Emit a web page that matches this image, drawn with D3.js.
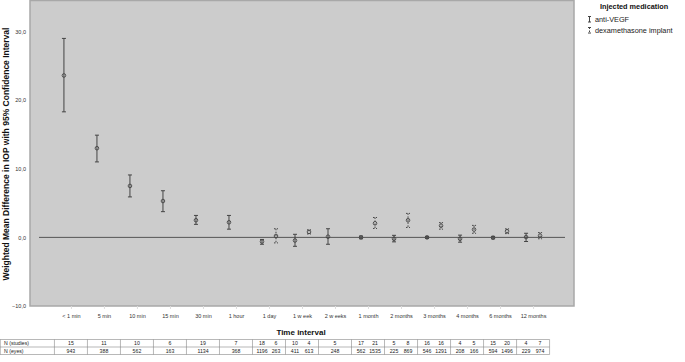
<!DOCTYPE html>
<html><head><meta charset="utf-8">
<script src="https://cdn.jsdelivr.net/npm/d3@7"></script>
<style>body{margin:0;background:#fff}svg{display:block}text{font-family:"Liberation Sans",Arial,sans-serif}</style>
</head><body>
<svg id="c" width="685" height="362"></svg>
<script>
const categories = ["< 1 min","5 min","10 min","15 min","30 min","1 hour","1 day","1 w eek","2 w eeks","1 month","2 months","3 months","4 months","6 months","12 months"];
const antiMean = [23.6,13.0,7.5,5.3,2.5,2.2,-0.6,-0.45,0.1,0.0,-0.2,0.0,-0.2,-0.05,0.05];
const antiLow  = [18.3,11.0,5.9,3.75,1.9,1.2,-1.0,-1.3,-1.0,-0.2,-0.65,-0.15,-0.7,-0.2,-0.6];
const antiHigh = [29.0,14.9,9.1,6.8,3.2,3.2,-0.3,0.45,1.26,0.2,0.3,0.15,0.33,0.15,0.6];
const dexMean = [null,null,null,null,null,null,0.2,0.8,null,2.05,2.5,1.7,1.15,0.9,0.25];
const dexLow  = [null,null,null,null,null,null,-0.8,0.5,null,1.3,1.45,1.2,0.6,0.55,-0.2];
const dexHigh = [null,null,null,null,null,null,1.26,1.1,null,2.9,3.5,2.15,1.75,1.25,0.7];
const antiStudies = [15,11,10,6,19,7,18,10,5,17,5,16,4,15,4];
const dexStudies  = [null,null,null,null,null,null,6,4,null,21,8,16,5,20,7];
const antiEyes = [943,388,562,163,1134,368,1196,411,248,562,225,546,208,594,229];
const dexEyes  = [null,null,null,null,null,null,263,613,null,1535,869,1291,166,1496,974];
const yTicks = [-10,0,10,20,30];
const seriesNames = ["anti-VEGF","dexamethasone implant"];

const svg = d3.select("#c");
const L=30,R=574,T=0,B=306;
const x = d3.scalePoint().domain(categories).range([L,R]).padding(1.24);
const y = d3.scaleLinear().domain([-10,34.6]).range([B,T]);
const off = 7;

svg.append("rect").attr("x",L).attr("y",T+0.5).attr("width",R-L).attr("height",B-T-0.5)
  .attr("fill","#cccccc").attr("stroke","#a8a8a8").attr("stroke-width",1.5);

// y axis labels
const yAx = svg.append("g").attr("transform",`translate(${L},0)`)
  .call(d3.axisLeft(y).tickValues(yTicks).tickSize(0).tickPadding(4).tickFormat(d=>d3.format(".1f")(d).replace(".",",")));
yAx.select(".domain").remove();
yAx.selectAll("text").attr("font-size",5.5).attr("fill","#333");

// x axis
const xAx = svg.append("g").attr("transform",`translate(0,${B})`)
  .call(d3.axisBottom(x).tickSize(3).tickPadding(5));
xAx.select(".domain").remove();
xAx.selectAll("line").attr("stroke","#ddd");
xAx.selectAll("text").attr("font-size",5.5).attr("fill","#333");

// reference line
svg.append("line").attr("x1",L+9).attr("x2",R-9).attr("y1",y(0)).attr("y2",y(0))
  .attr("stroke","#555").attr("stroke-width",1);

function drawSeries(mean,low,high,dx,dash){
  const g = svg.append("g");
  categories.forEach((c,i)=>{
    if(mean[i]==null) return;
    const cx = x(c)+dx;
    g.append("line").attr("x1",cx).attr("x2",cx).attr("y1",y(high[i])).attr("y2",y(low[i]))
      .attr("stroke","#444").attr("stroke-width",1).attr("stroke-dasharray",dash);
    [high[i],low[i]].forEach(v=>g.append("line").attr("x1",cx-2).attr("x2",cx+2).attr("y1",y(v)).attr("y2",y(v))
      .attr("stroke","#444").attr("stroke-width",1).attr("stroke-dasharray",dash));
    g.append("circle").attr("cx",cx).attr("cy",y(mean[i])).attr("r",1.8)
      .attr("fill","none").attr("stroke","#444").attr("stroke-width",0.9);
  });
}
drawSeries(antiMean,antiLow,antiHigh,-off,null);
drawSeries(dexMean,dexLow,dexHigh,off,"1.5,1.5");

// axis titles
svg.append("text").attr("x",301).attr("y",335).attr("text-anchor","middle")
  .attr("font-size",8).attr("font-weight","bold").attr("fill","#111").text("Time interval");
svg.append("text").attr("transform","translate(9,154) rotate(-90)").attr("text-anchor","middle")
  .attr("font-size",8.5).attr("font-weight","bold").attr("fill","#111")
  .text("Weighted Mean Difference in IOP with 95% Confidence Interval");

// legend
const lg = svg.append("g");
lg.append("text").attr("x",600).attr("y",9).attr("font-size",7.3).attr("font-weight","bold").attr("fill","#111").text("Injected medication");
seriesNames.forEach((n,i)=>{
  const yy = 21.5+i*11;
  const ix=589.5;
  const dash = i===0?null:"1.5,1.5";
  lg.append("line").attr("x1",ix).attr("x2",ix).attr("y1",yy-5).attr("y2",yy+0.5).attr("stroke","#444").attr("stroke-dasharray",dash);
  lg.append("line").attr("x1",ix-1.5).attr("x2",ix+1.5).attr("y1",yy-5).attr("y2",yy-5).attr("stroke","#444");
  lg.append("line").attr("x1",ix-1.5).attr("x2",ix+1.5).attr("y1",yy+0.5).attr("y2",yy+0.5).attr("stroke","#444");
  lg.append("text").attr("x",595).attr("y",yy).attr("font-size",7.3).attr("fill","#222").text(n);
});

// table
const tb = svg.append("g");
const tTop=339.5, tMid=347, tBot=354.5;
const step = x.step();
const left0 = 0, right0 = x(categories[categories.length-1])+step/2;
[tTop,tMid,tBot].forEach(v=>tb.append("line").attr("x1",left0).attr("x2",right0).attr("y1",v).attr("y2",v).attr("stroke","#888").attr("stroke-width",0.6));
const seps = [left0+0.3].concat(categories.map(c=>x(c)-step/2)).concat([right0]);
seps.forEach(v=>tb.append("line").attr("x1",v).attr("x2",v).attr("y1",tTop).attr("y2",tBot).attr("stroke","#888").attr("stroke-width",0.6));
tb.append("text").attr("x",4).attr("y",345.3).attr("font-size",5.2).attr("fill","#222").text("N (studies)");
tb.append("text").attr("x",4).attr("y",352.8).attr("font-size",5.2).attr("fill","#222").text("N (eyes)");
function rowText(vA,vD,yy){
  categories.forEach((c,i)=>{
    if(vD[i]==null){
      tb.append("text").attr("x",x(c)).attr("y",yy).attr("text-anchor","middle").attr("font-size",5.2).attr("fill","#222").text(vA[i]);
    } else {
      tb.append("text").attr("x",x(c)-off).attr("y",yy).attr("text-anchor","middle").attr("font-size",5.2).attr("fill","#222").text(vA[i]);
      tb.append("text").attr("x",x(c)+off).attr("y",yy).attr("text-anchor","middle").attr("font-size",5.2).attr("fill","#222").text(vD[i]);
    }
  });
}
rowText(antiStudies,dexStudies,345.3);
rowText(antiEyes,dexEyes,352.8);
</script>
</body></html>
